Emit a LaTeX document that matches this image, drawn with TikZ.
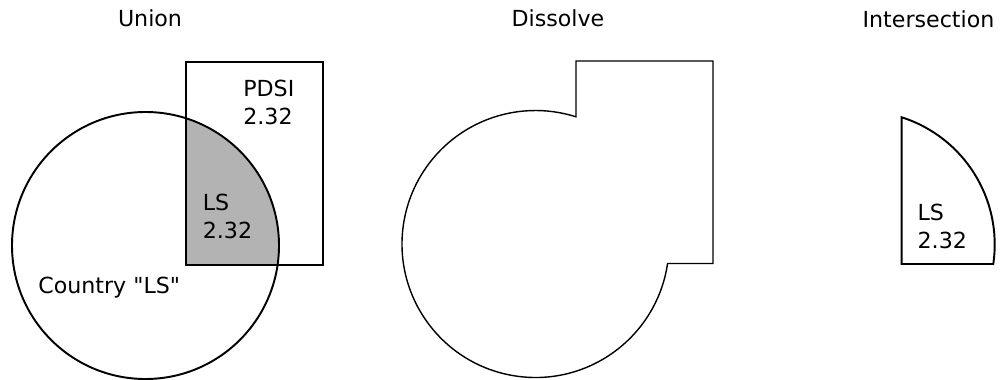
\documentclass[tikz,border=0pt]{standalone}
\usepackage{fontspec}
\setmainfont{DejaVu Sans}
\usetikzlibrary{positioning,calc}
\definecolor{LSGray}{HTML}{B3B3B3}

\begin{document}
\begin{tikzpicture}[x=0.02cm,y=-0.02cm,
  lbl/.style={inner sep=0pt,align=left,anchor=base west,
              font=\fontsize{12.6}{15.9}\selectfont},
  ttl/.style={inner sep=0pt,anchor=base,font=\fontsize{12.6}{15.9}\selectfont},
  thickline/.style={line width=1.1pt},
  thinline/.style={line width=0.8pt}
]
  \useasboundingbox (0,0) rectangle (1000,379);
  % union
  \coordinate (uc) at (145.5,245.5);
  \begin{scope}
    \clip (186,62) rectangle (323,265);
    \fill[LSGray] (uc) circle[radius=133.5];
  \end{scope}
  \draw[thickline] (uc) circle[radius=133.5];
  \draw[thinline] (186,62) rectangle (323,265);
  \node[ttl] (union) at (150,26.7) {Union};
  \node[lbl] (pdsi) at (243,124.5) {PDSI\\2.32};
  \node[lbl] (uls) at (202.5,238.3) {LS\\2.32};
  \node[lbl] (country) at (38,293) {Country \textquotedbl LS\textquotedbl};
  % dissolve
  \coordinate (dc) at (535.5,244);
  \draw[thinline,line join=miter] (713,263.5) -- ($(dc)+(8.4:133.5)$)
    arc[start angle=8.4,end angle=287.66,radius=133.5]
    -- (576,61) -- (713,61) -- cycle;
  \node[ttl] (dissolve) at (558,26.7) {Dissolve};
  % intersection
  \coordinate (ic) at (861.2,244.5);
  \draw[thickline] (901.7,264) -- ($(ic)+(287.66:133.5)$)
    arc[start angle=287.66,end angle=368.4,radius=133.5] -- cycle;
  \node[ttl] (inter) at (928.5,27.5) {Intersection};
  \node[lbl] (ils) at (917.3,248.3) {LS\\2.32};
\end{tikzpicture}
\end{document}
